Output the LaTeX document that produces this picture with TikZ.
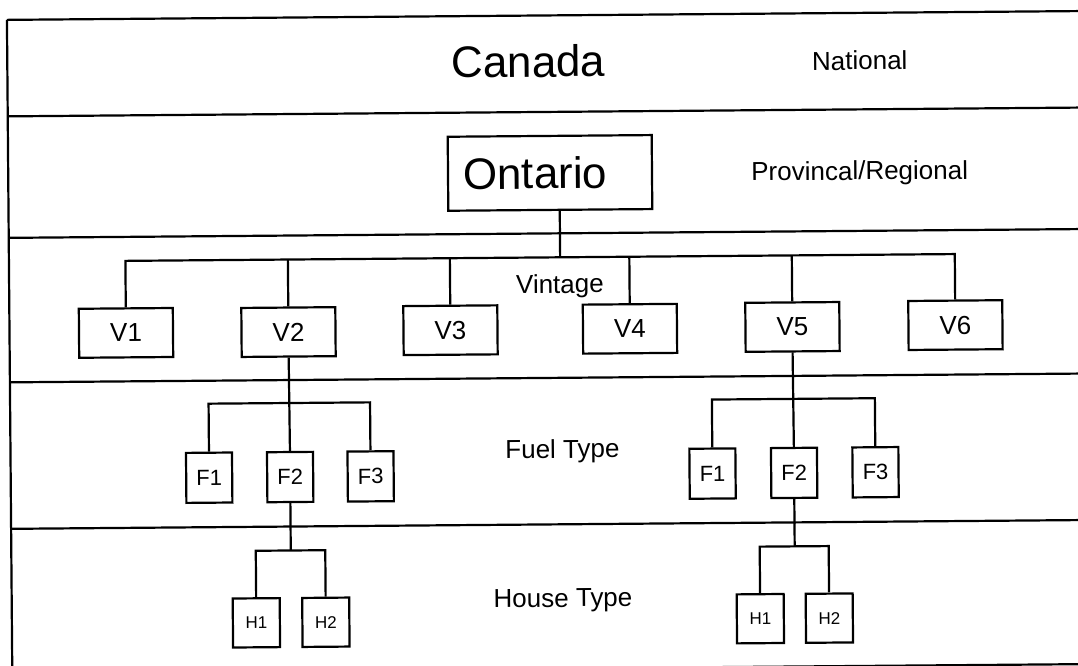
\documentclass[tikz,border=0pt]{standalone}
\usepackage{fontspec}
\setmainfont{Liberation Sans}
\usetikzlibrary{calc}
\begin{document}
\begin{tikzpicture}[x=1pt,y=-1pt,line width=2.2pt,
  big/.style={font=\fontsize{44}{50}\selectfont},
  lbl/.style={anchor=base,font=\fontsize{26}{31}\selectfont},
  vbox/.style={draw,minimum width=94,minimum height=49,inner sep=0,font=\fontsize{26}{30}\selectfont},
  fuelbox/.style={draw,minimum width=46,minimum height=50,inner sep=0,font=\fontsize{22}{26}\selectfont},
  housebox/.style={draw,minimum width=47,minimum height=49,inner sep=0,font=\fontsize{17}{20}\selectfont}]
\useasboundingbox (0,0) rectangle (1078,666);
\clip (0,0) rectangle (1078,666);
\fill[white] (0,0) rectangle (1078,666);
\begin{scope}[rotate around={0.47:(539,333)},transform shape]
% frame and band dividers
\draw (9.5,15.5) -- (1100,15.5);
\draw (9.5,15.5) -- (9.5,720);
\draw (9.5,112) -- (1100,112);
\draw (9.5,233.5) -- (1100,233.5);
\draw (9.5,378) -- (1100,378);
\draw (9.5,524.5) -- (1100,524.5);
\draw (9.5,668.6) -- (1100,668.6);
% level labels
\node[big,anchor=base] (canada) at (530.5,77) {Canada};
\node[lbl] (national) at (862,72.5) {National};
\node[lbl] (prov) at (861,182.5) {Provincal/Regional};
\node[lbl] (vintage) at (560.3,293.2) {Vintage};
\node[lbl] (fuel) at (561.5,458.2) {Fuel Type};
\node[lbl] (house) at (560.8,607.2) {House Type};
% Ontario
\node[draw,big,minimum height=74,inner xsep=15,text width=174,align=left] (Ontario) at (551.3,173) {Ontario};
% vintages
\node[vbox] (V1) at (126,329.5) {V1};
\node[vbox] (V2) at (288.5,330) {V2};
\node[vbox] (V3) at (450.5,329.5) {V3};
\node[vbox] (V4) at (630,329.5) {V4};
\node[vbox] (V5) at (792.5,329) {V5};
\node[vbox] (V6) at (955.5,328.5) {V6};
\coordinate (vbL) at (126,257.5);
\coordinate (vbR) at (955.5,257.5);
\draw (V1.north) -- (vbL) -- (vbR) -- (V6.north);
\foreach \v in {V2,V3,V4,V5}{\draw (\v.north) -- ($(vbL)!(\v.north)!(vbR)$);}
\draw ([xshift=9.5]Ontario.south) -- ($(vbL)!([xshift=9.5]Ontario.south)!(vbR)$);
% fuel types, left
\node[fuelbox] (F1a) at (208,475) {F1};
\node[fuelbox] (F2a) at (289,475) {F2};
\node[fuelbox] (F3a) at (369.5,475) {F3};
\coordinate (fa1) at (208,401);
\coordinate (fa3) at (369.5,401);
\draw (F1a.north) -- (fa1) -- (fa3) -- (F3a.north);
\draw (V2.south) -- (F2a.north);
% fuel types, right
\node[fuelbox] (F1b) at (711.4,475) {F1};
\node[fuelbox] (F2b) at (793,475) {F2};
\node[fuelbox] (F3b) at (874.4,475) {F3};
\coordinate (fb1) at (711.4,401);
\coordinate (fb3) at (874.4,401);
\draw (F1b.north) -- (fb1) -- (fb3) -- (F3b.north);
\draw (V5.south) -- (F2b.north);
% house types, left
\node[housebox] (H1a) at (254,620.5) {H1};
\node[housebox] (H2a) at (323.5,620.5) {H2};
\coordinate (ha1) at (254,548.5);
\coordinate (ha2) at (323.5,548.5);
\draw (H1a.north) -- (ha1) -- (ha2) -- (H2a.north);
\draw (F2a.south) -- ($(ha1)!(F2a.south)!(ha2)$);
% house types, right
\node[housebox] (H1b) at (758,620.5) {H1};
\node[housebox] (H2b) at (827,620.5) {H2};
\coordinate (hb1) at (758,548.5);
\coordinate (hb2) at (827,548.5);
\draw (H1b.north) -- (hb1) -- (hb2) -- (H2b.north);
\draw (F2b.south) -- ($(hb1)!(F2b.south)!(hb2)$);
\end{scope}
\end{tikzpicture}
\end{document}
